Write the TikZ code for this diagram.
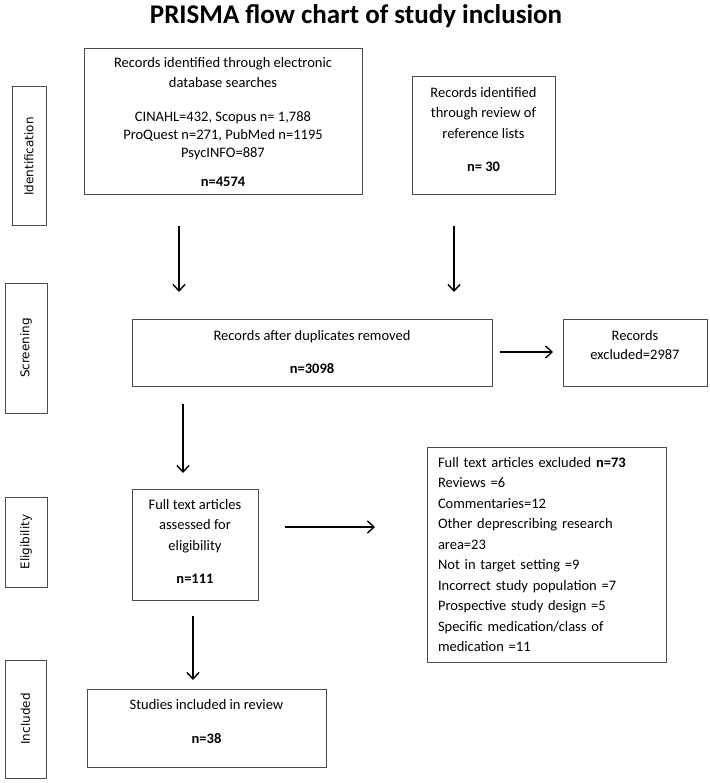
\documentclass[tikz,border=0pt]{standalone}
\usepackage{fontspec}
\setmainfont{Carlito}
\newfontfamily\sidefont{DejaVu Sans}
\usetikzlibrary{arrows.meta}

\begin{document}
\begin{tikzpicture}[x=1pt, y=-1pt,
  every node/.style = {font=\fontsize{14.5}{20.5}\selectfont},
  box/.style = {draw=black!70, line width=1pt, align=center, inner sep=0pt},
  stage/.style = {draw=black!70, line width=1pt, rotate=90, inner sep=0pt,
    font=\sidefont\fontsize{12}{14}\selectfont},
  arr/.style = {-{Straight Barb[length=6.5pt,width=12pt]}, line width=1.4pt}]
  \useasboundingbox (0,0) rectangle (709,783);
  \node (title) at (356,16) {\fontsize{27}{30}\selectfont\bfseries PRISMA flow chart of study inclusion};
  % stages down the left side
  \node[stage, minimum width=139, minimum height=34] (ident) at (29,156.5) {Identification};
  \node[stage, minimum width=130, minimum height=42] (scr) at (26,348) {Screening};
  \node[stage, minimum width=90, minimum height=42] (elig) at (26,542) {Eligibility};
  \node[stage, minimum width=118, minimum height=41] (incl) at (25.5,719) {Included};
  % boxes
  \node[box, minimum width=278, minimum height=146] (db) at (223,122)
    {Records identified through electronic\\database searches\\[13.5pt]
     CINAHL=432, Scopus n= 1,788\\[-2.5pt]ProQuest n=271, PubMed n=1195\\[-2.5pt]PsycINFO=887\\[8.5pt]
     \textbf{n=4574}};
  \node[box, minimum width=143, minimum height=118, text depth=14pt] (refs) at (483.5,136)
    {Records identified\\through review of\\reference lists\\[12.5pt]\textbf{n= 30}};
  \node[box, minimum width=360, minimum height=67] (dup) at (312,352.5)
    {Records after duplicates removed\\[12.5pt]\textbf{n=3098}};
  \node[box, minimum width=144, minimum height=67, text depth=16pt] (excl) at (635,352.5)
    {Records\\[-1.5pt]excluded=2987};
  \node[box, minimum width=126, minimum height=111, text depth=7pt] (full) at (195,544.5)
    {Full text articles\\assessed for\\eligibility\\[12.5pt]\textbf{n=111}};
  \node[box, align=left, text width=217pt, inner xsep=11pt, minimum height=215] (ftex) at (546.5,554.5)
    {Full text articles excluded \textbf{n=73}\\Reviews =6\\Commentaries=12\\Other deprescribing research\\area=23\\
     Not in target setting =9\\Incorrect study population =7\\Prospective study design =5\\
     Specific medication/class of\\medication =11};
  \node[box, minimum width=239, minimum height=78, text depth=14pt] (stud) at (206.5,728)
    {Studies included in review\\[13.5pt]\textbf{n=38}};
  % arrows
  \coordinate (a1) at (179,226); \coordinate (b1) at (179,292);
  \coordinate (a2) at (454,226); \coordinate (b2) at (454,292);
  \coordinate (a3) at (500,352); \coordinate (b3) at (553,352);
  \coordinate (a4) at (183,404); \coordinate (b4) at (183,473);
  \coordinate (a5) at (285,527); \coordinate (b5) at (375,527);
  \coordinate (a6) at (193,616); \coordinate (b6) at (193,680);
  \foreach \s/\e in {a1/b1, a2/b2, a3/b3, a4/b4, a5/b5, a6/b6}
    \draw[arr] (\s) -- (\e);
\end{tikzpicture}
\end{document}
